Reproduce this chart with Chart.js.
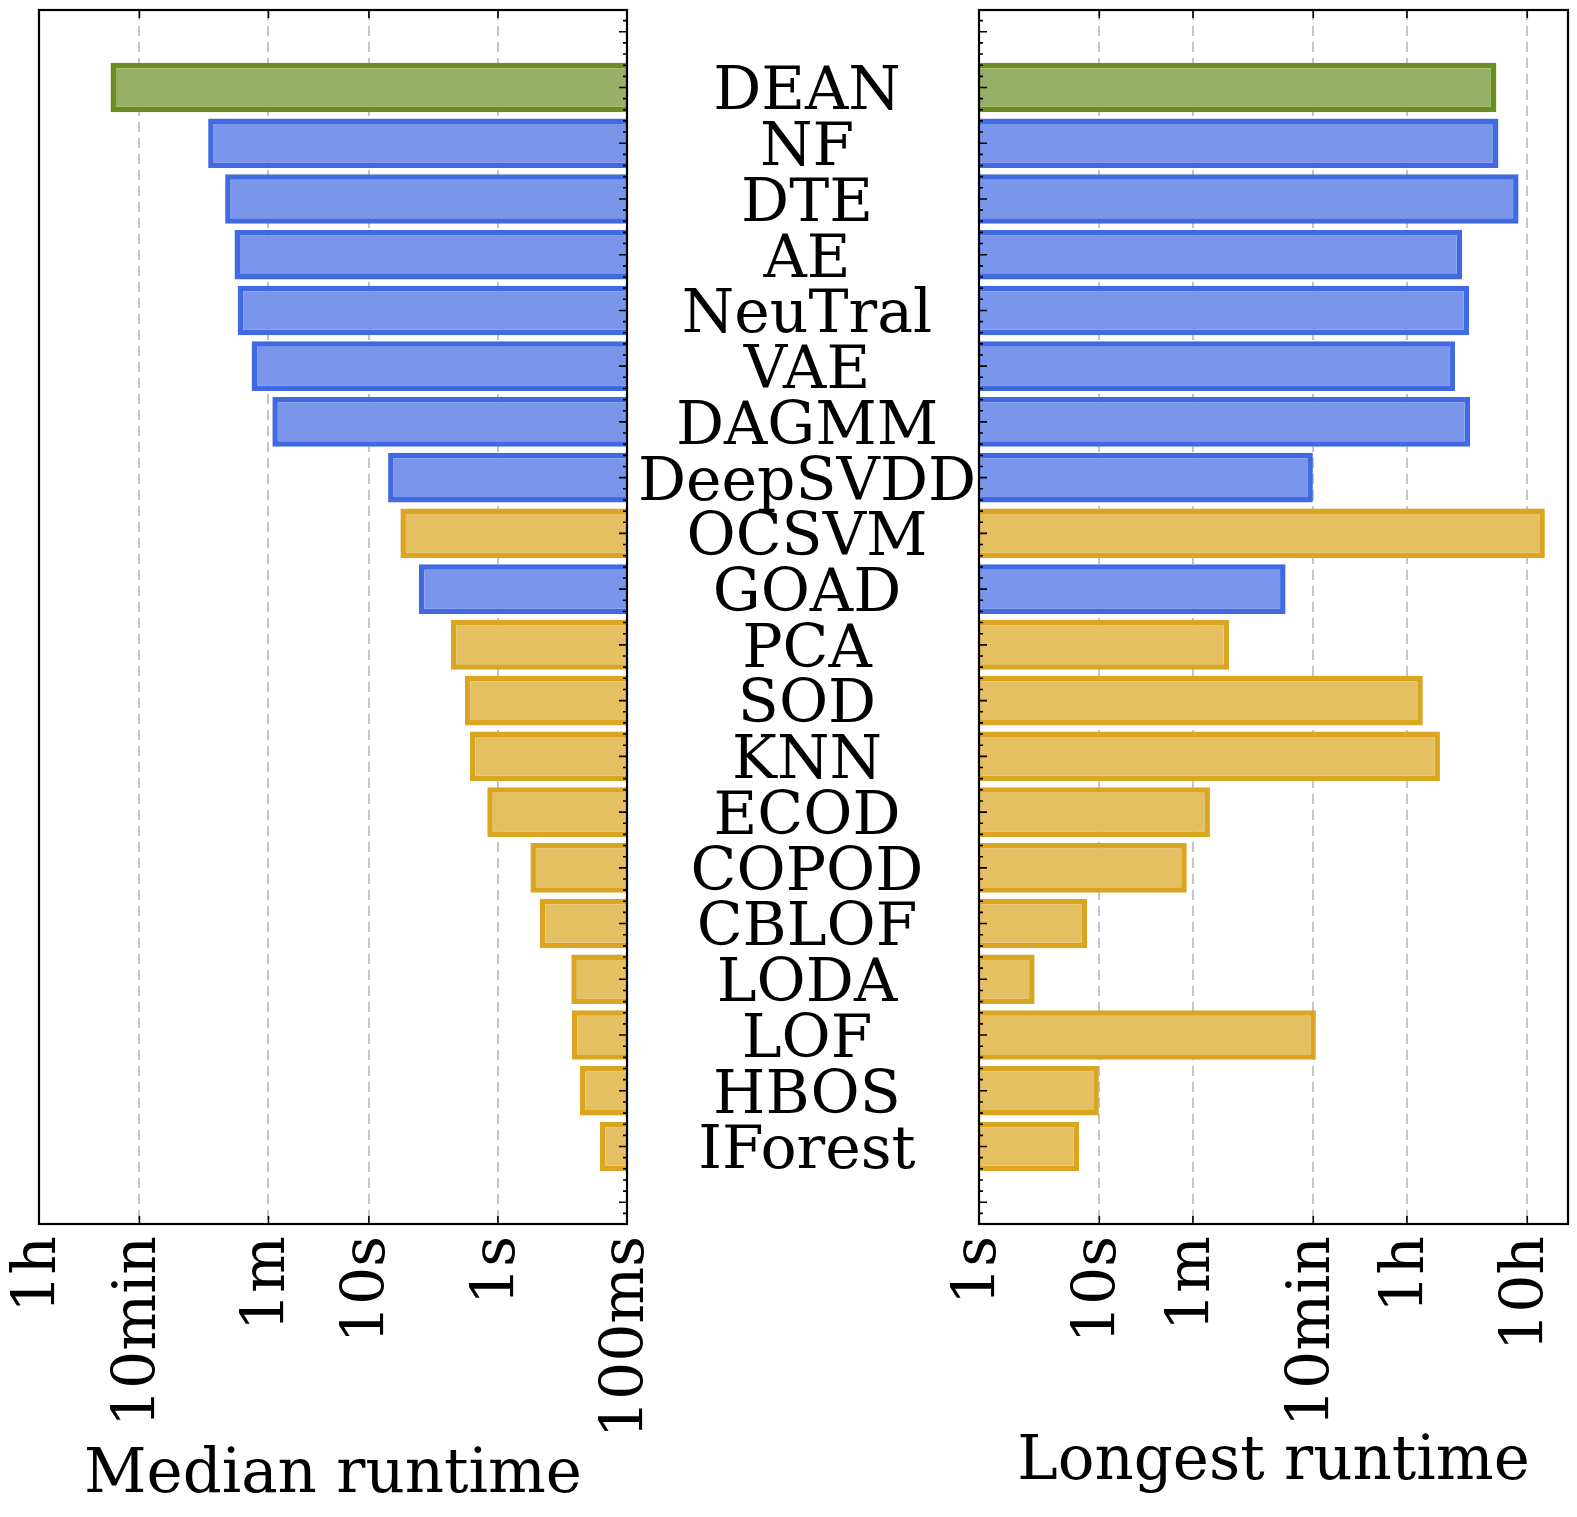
<!DOCTYPE html>
<html>
<head>
<meta charset="utf-8">
<title>Median and longest runtime</title>
<script src="https://cdn.jsdelivr.net/npm/chart.js@4.4.1/dist/chart.umd.min.js"></script>
<style>
  html, body { margin: 0; padding: 0; background: #fff; }
  #wrap { position: relative; width: 1577px; height: 1517px; }
  #wrap canvas { position: absolute; left: 0; top: 0; }
</style>
</head>
<body>
<div id="wrap">
  <canvas id="median" width="1577" height="1517"></canvas>
  <canvas id="longest" width="1577" height="1517"></canvas>
</div>
<script>
const methods = ["DEAN", "NF", "DTE", "AE", "NeuTral", "VAE", "DAGMM", "DeepSVDD", "OCSVM", "GOAD",
  "PCA", "SOD", "KNN", "ECOD", "COPOD", "CBLOF", "LODA", "LOF", "HBOS", "IForest"];
const groups = ["ours", "deep", "deep", "deep", "deep", "deep", "deep", "deep", "shallow", "deep",
  "shallow", "shallow", "shallow", "shallow", "shallow", "shallow", "shallow", "shallow", "shallow", "shallow"];

// runtimes in seconds
const medianRuntime = [1005, 176, 130, 110, 104, 81, 56, 7.1, 5.7, 4.1,
  2.32, 1.8, 1.65, 1.21, 0.56, 0.475, 0.27, 0.268, 0.232, 0.162];
const longestRuntime = [19950, 20750, 30500, 10360, 11860, 9040, 12080, 595, 50400, 353,
  120, 4880, 6770, 83, 53.3, 7.9, 2.9, 630, 9.9, 6.8];

const medianTicks = [3600, 600, 60, 10, 1, 0.1];
const medianTickLabels = ["1h", "10min", "1m", "10s", "1s", "100ms"];
const longestTicks = [1, 10, 60, 600, 3600, 36000];
const longestTickLabels = ["1s", "10s", "1m", "10min", "1h", "10h"];

const fillColor = { ours: "#97b065", deep: "#7a96ea", shallow: "#e5c063" };
const edgeColor = { ours: "#6b8e23", deep: "#4169e1", shallow: "#daa520" };

const FONT = "DejaVu Serif";

// box + inward ticks, matplotlib style
const frame = {
  id: "frame",
  afterDraw(chart, args, opts) {
    const { ctx, chartArea: a } = chart;
    const xs = chart.scales.x;
    const ys = chart.scales.y;
    ctx.save();
    ctx.strokeStyle = "#000";
    ctx.lineWidth = 1.6;
    ctx.beginPath();
    for (const t of xs.ticks) {
      const px = xs.getPixelForValue(t.value);
      ctx.moveTo(px, a.bottom);
      ctx.lineTo(px, a.bottom - 8);
      ctx.moveTo(px, a.top);
      ctx.lineTo(px, a.top + 8);
    }
    const edge = opts.side === "right" ? a.right : a.left;
    const dir = opts.side === "right" ? -1 : 1;
    for (let k = Math.ceil(ys.min * 5); k <= Math.floor(ys.max * 5); k++) {
      const py = ys.getPixelForValue(k / 5);
      const len = k % 5 === 0 ? 8 : 4;
      ctx.moveTo(edge, py);
      ctx.lineTo(edge + dir * len, py);
    }
    ctx.stroke();
    ctx.lineWidth = 2.2;
    ctx.strokeRect(a.left, a.top, a.width, a.height);
    ctx.restore();
  }
};

// method names between the two panels
const methodLabels = {
  id: "methodLabels",
  afterDraw(chart, args, opts) {
    if (!opts.display) return;
    const { ctx, chartArea: a } = chart;
    const ys = chart.scales.y;
    ctx.save();
    ctx.font = `${opts.size}px '${FONT}'`;
    ctx.fillStyle = "#000";
    ctx.textAlign = "center";
    ctx.textBaseline = "alphabetic";
    methods.forEach((m, i) => {
      ctx.fillText(m, a.right + opts.offset, ys.getPixelForValue(i) + opts.size * 0.3645);
    });
    ctx.restore();
  }
};

function makeChart(id, values, ticks, tickLabels, o) {
  return new Chart(document.getElementById(id), {
    type: "bar",
    data: {
      datasets: [{
        data: values.map((v, i) => ({ x: v, y: i })),
        backgroundColor: groups.map(g => fillColor[g]),
        borderColor: groups.map(g => edgeColor[g]),
        borderWidth: 5.5,
        borderSkipped: "start",
        barPercentage: 0.89,
        categoryPercentage: 1
      }]
    },
    options: {
      indexAxis: "y",
      responsive: false,
      animation: false,
      devicePixelRatio: 1,
      events: [],
      layout: { padding: o.padding },
      scales: {
        x: {
          type: "logarithmic",
          min: o.min,
          max: o.max,
          reverse: o.reverse,
          afterBuildTicks: s => { s.ticks = ticks.map(v => ({ value: v })); },
          afterFit: s => {
            s.height = 293;
            s.paddingLeft = 0;
            s.paddingRight = 0;
          },
          grid: { color: "#c4c4c4", lineWidth: 2, drawTicks: false },
          border: { display: false, dash: [10, 6] },
          ticks: {
            autoSkip: false,
            minRotation: 90,
            maxRotation: 90,
            padding: 12,
            color: "#000",
            font: { family: FONT, size: 60 },
            callback: (v, i) => tickLabels[i]
          },
          title: {
            display: true,
            text: o.title,
            color: "#000",
            font: { family: FONT, size: 61 },
            padding: { top: 0, bottom: o.titlePad }
          }
        },
        y: {
          type: "linear",
          min: -1.39,
          max: 20.39,
          reverse: true,
          offset: false,
          display: false,
          afterBuildTicks: s => { s.ticks = methods.map((m, i) => ({ value: i })); }
        }
      },
      plugins: {
        legend: { display: false },
        tooltip: { enabled: false },
        frame: { side: o.side },
        methodLabels: { display: o.labels, offset: 180, size: 60 }
      }
    },
    plugins: [frame, methodLabels]
  });
}

makeChart("median", medianRuntime, medianTicks, medianTickLabels, {
  min: 0.1, max: 3600, reverse: true, side: "right", labels: true,
  title: "Median runtime", titlePad: 4,
  padding: { top: 10, left: 39, right: 950, bottom: 0 }
});

makeChart("longest", longestRuntime, longestTicks, longestTickLabels, {
  min: 1, max: 78500, reverse: false, side: "left", labels: false,
  title: "Longest runtime", titlePad: 17,
  padding: { top: 10, left: 979, right: 9, bottom: 0 }
});
</script>
</body>
</html>
